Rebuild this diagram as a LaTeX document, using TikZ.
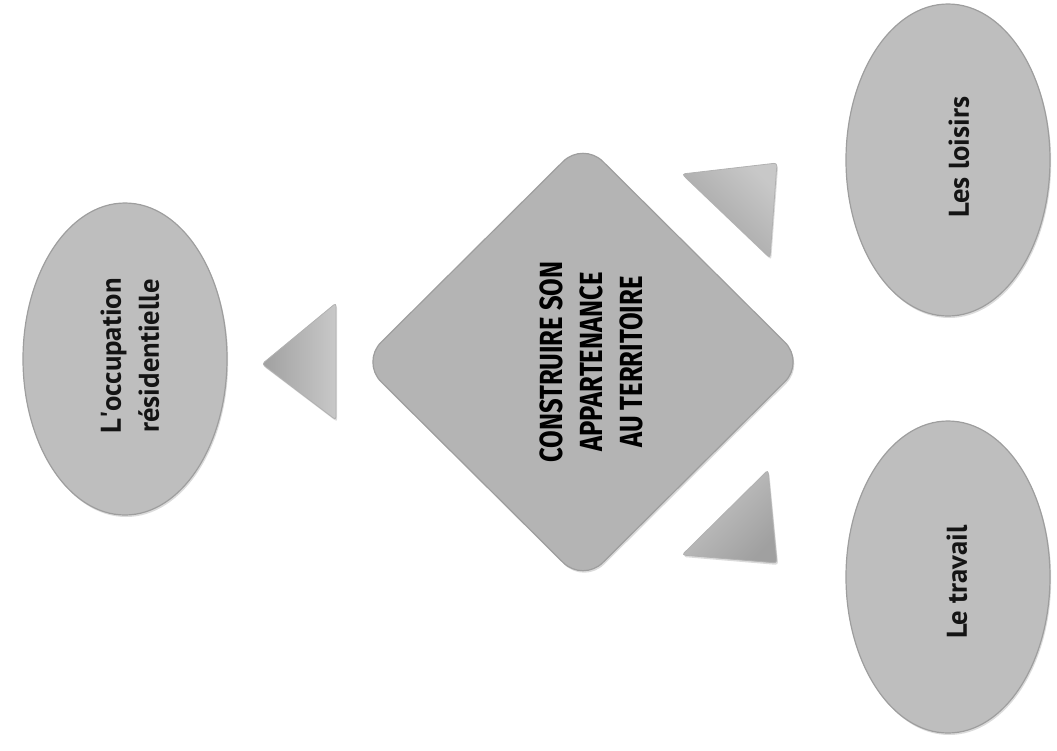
\documentclass[tikz,border=0pt]{standalone}
\usepackage{fontspec}
\setmainfont{PT Sans}
\newfontfamily\titlefont[FakeStretch=0.8]{Fira Sans}
\usetikzlibrary{shapes.geometric,shadows}
\definecolor{ellgray}{RGB}{190,190,190}
\definecolor{diagray}{RGB}{180,180,180}
\definecolor{edgegray}{RGB}{158,158,158}
\definecolor{tridark}{RGB}{160,160,160}
\definecolor{trilight}{RGB}{200,200,200}
\begin{document}
\begin{tikzpicture}[x=0.5pt,y=-0.5pt,
  softshadow/.style={drop shadow={shadow xshift=0.6pt, shadow yshift=-1.0pt, opacity=0.2, fill=black!70}},
  bubble/.style={ellipse, rotate=90, minimum width=156pt, minimum height=102pt, inner sep=0pt,
    fill=ellgray, draw=edgegray, line width=0.6pt, softshadow},
  core/.style={diamond, rounded corners=14pt, minimum width=222pt, minimum height=220.5pt, inner sep=0pt,
    fill=diagray, draw=edgegray, line width=0.6pt, softshadow},
  lbl/.style={rotate=90, align=center, inner sep=0pt, text=black!92,
    font=\bfseries\fontsize{14.3}{19}\selectfont},
  corelbl/.style={rotate=90, align=center, inner sep=0pt, text=black,
    font=\titlefont\bfseries\fontsize{16}{20}\selectfont},
  tri/.style={draw=edgegray!80, line width=0.4pt, line join=round, rounded corners=1.5pt}
]
\useasboundingbox (0,0) rectangle (1057,751);

% shapes
\node[bubble] (occ) at (125,359) {};
\node[bubble] (loisirs) at (948,160) {};
\node[bubble] (travail) at (948,577) {};
\node[core] (centre) at (583,362) {};

% labels
\node[lbl] (occtxt) at (130,356) {L\textquotesingle occupation\\résidentielle};
\node[lbl] (loisirstxt) at (959,157) {Les loisirs};
\node[lbl] (travailtxt) at (957,582) {Le travail};
\node[corelbl] (centretxt) at (591,362) {CONSTRUIRE SON\\APPARTENANCE\\AU TERRITOIRE};

% triangles (arrows)
\coordinate (l1) at (262,364); \coordinate (l2) at (336,303); \coordinate (l3) at (336,420);
\coordinate (a1) at (682,174); \coordinate (a2) at (777,163); \coordinate (a3) at (770,258);
\coordinate (b1) at (682,555); \coordinate (b2) at (768,470); \coordinate (b3) at (777,563);

\shade[tri, left color=tridark, right color=trilight, softshadow] (l1) -- (l2) -- (l3) -- cycle;
\shade[tri, shading=axis, top color=trilight, bottom color=tridark, shading angle=-45, softshadow] (a1) -- (a2) -- (a3) -- cycle;
\shade[tri, shading=axis, top color=trilight, bottom color=tridark, shading angle=45, softshadow] (b1) -- (b2) -- (b3) -- cycle;
\end{tikzpicture}
\end{document}
